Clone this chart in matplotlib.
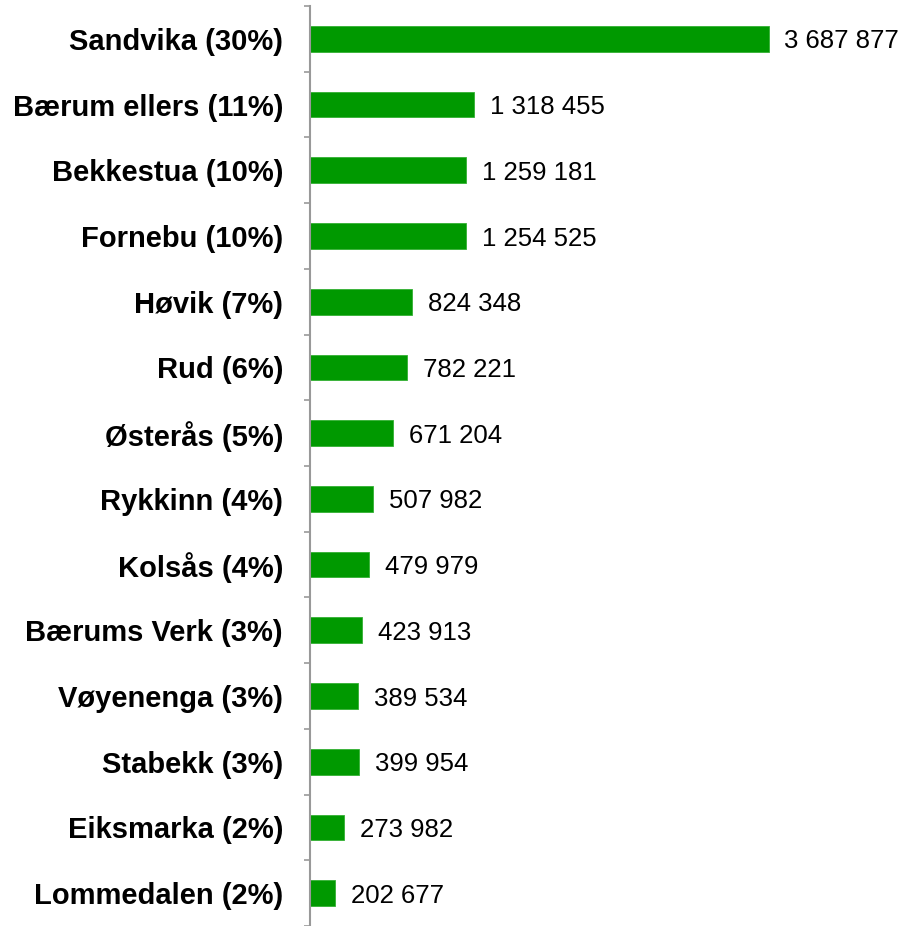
import numpy as np
import matplotlib
matplotlib.use('Agg')
import matplotlib.pyplot as plt

plt.rcParams['font.family'] = ['Liberation Sans', 'DejaVu Sans']

categories = ['Sandvika (30%)', 'Bærum ellers (11%)', 'Bekkestua (10%)', 'Fornebu (10%)',
              'Høvik (7%)', 'Rud (6%)', 'Østerås (5%)', 'Rykkinn (4%)', 'Kolsås (4%)',
              'Bærums Verk (3%)', 'Vøyenenga (3%)', 'Stabekk (3%)', 'Eiksmarka (2%)',
              'Lommedalen (2%)']
values = [3687877, 1318455, 1259181, 1254525, 824348, 782221, 671204, 507982,
          479979, 423913, 389534, 399954, 273982, 202677]

def fmt(v):
    return '{:,}'.format(v).replace(',', ' ')

fig = plt.figure(figsize=(9.05, 9.26), dpi=100)
ax = fig.add_axes([309.5 / 905, 0, (905 - 309.5) / 905, 920 / 926])

y = np.arange(len(categories))
ax.barh(y, values, height=0.39, color='#009900', edgecolor='#33b033', linewidth=0.6)

px = 459 / 3687877  # pixels per unit
ax.set_xlim(0, (905 - 309.5) / px)
ax.set_ylim(13.47, -0.5)

for yi, v in zip(y, values):
    ax.annotate(fmt(v), (v, yi), xytext=(11.5, 0), textcoords='offset points',
                va='center_baseline', ha='left', fontsize=18.5)

ax.set_yticks(y)
ax.set_yticklabels(categories, fontsize=21, fontweight='bold')
for t in ax.get_yticklabels():
    t.set_va('center_baseline')
ax.tick_params(axis='y', which='major', length=0, pad=19)
ax.set_yticks(np.arange(-0.5, 14, 1), minor=True)
ax.tick_params(axis='y', which='minor', length=4.5, width=1.2, color='#999999')
ax.set_xticks([])

for s in ['top', 'right', 'bottom']:
    ax.spines[s].set_visible(False)
ax.spines['left'].set_color('#999999')
ax.spines['left'].set_linewidth(1.5)

plt.savefig('out.png', dpi=100)
